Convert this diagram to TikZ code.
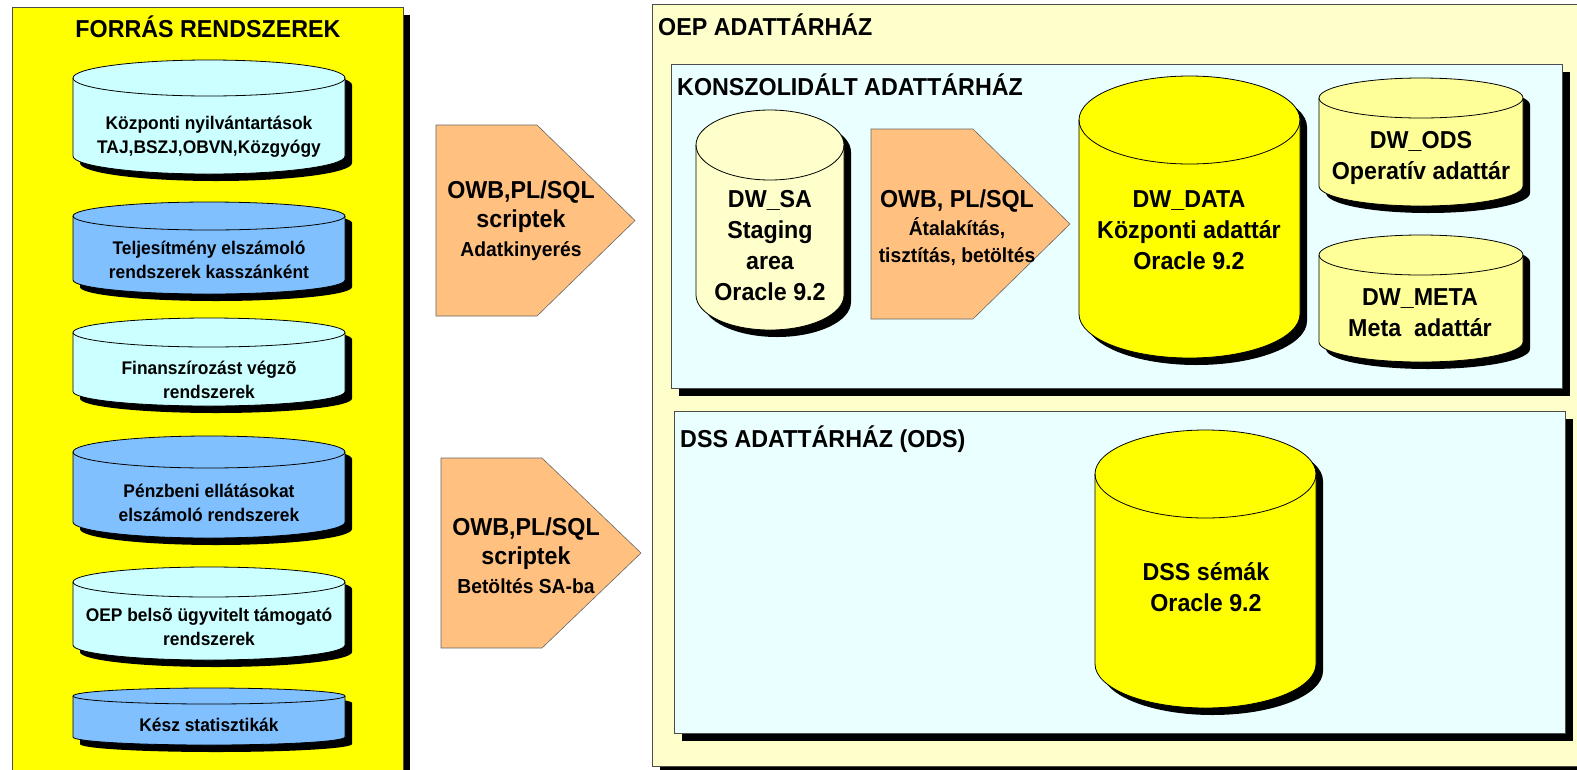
\documentclass[tikz,border=0pt]{standalone}
\usepackage{fontspec}
\setmainfont{Liberation Sans}[FakeStretch=0.95]
\definecolor{srcyellow}{HTML}{FFFF00}
\definecolor{oepfill}{HTML}{FFFFCC}
\definecolor{dwfill}{HTML}{EAFFFF}
\definecolor{cylcyan}{HTML}{CCFFFF}
\definecolor{cylblue}{HTML}{80C0FF}
\definecolor{etlorange}{HTML}{FFC080}
\definecolor{odsyellow}{HTML}{FFFF99}
\newcommand{\dbcyl}[6]{%
  \pgfmathsetmacro\cylrx{(#2-#1)/2}%
  \fill[black] (#1+7,#3+#5+7) -- (#1+7,#4-#5+7)
    arc[start angle=180, end angle=360, x radius=\cylrx pt, y radius=#5pt]
    -- (#2+7,#3+#5+7)
    arc[start angle=0, end angle=180, x radius=\cylrx pt, y radius=#5pt] -- cycle;
  \filldraw[fill=#6, draw=black, line width=0.8pt] (#1,#3+#5) -- (#1,#4-#5)
    arc[start angle=180, end angle=360, x radius=\cylrx pt, y radius=#5pt]
    -- (#2,#3+#5)
    arc[start angle=0, end angle=180, x radius=\cylrx pt, y radius=#5pt] -- cycle;
  \draw[line width=0.8pt] (#1,#3+#5)
    arc[start angle=180, end angle=360, x radius=\cylrx pt, y radius=#5pt];
}
\newcommand{\subline}[1]{{\fontsize{20.3}{29}\selectfont #1}}
\begin{document}
\begin{tikzpicture}[x=1pt, y=-1pt,
  frame/.style={draw=black!70, line width=0.8pt},
  etl/.style={fill=etlorange, draw=black!60, line width=0.6pt},
  title/.style={font=\bfseries\fontsize{24.5}{29}\selectfont, inner sep=0pt},
  srctext/.style={font=\bfseries\fontsize{18.3}{24}\selectfont, align=center, inner sep=0pt},
  dbtext/.style={font=\bfseries\fontsize{24.5}{31}\selectfont, align=center, inner sep=0pt},
  etltext/.style={font=\bfseries\fontsize{24.5}{29}\selectfont, align=center, inner sep=0pt}]
\useasboundingbox (0,0) rectangle (1577,769);
\clip (0,0) rectangle (1577,769);

% forras rendszerek
\fill[black] (19,15) rectangle (410,790);
\filldraw[frame, fill=srcyellow] (12,7) rectangle (403,790);
\node[title, anchor=base] (srctitle) at (208,37.5) {FORRÁS RENDSZEREK};
\dbcyl{73}{345}{60}{174}{18}{cylcyan}
\dbcyl{73}{345}{202}{294}{14}{cylblue}
\dbcyl{73}{345}{318}{406}{14.5}{cylcyan}
\dbcyl{73}{345}{436}{538}{16}{cylblue}
\dbcyl{73}{345}{567}{660}{15}{cylcyan}
\dbcyl{73}{345}{688}{745}{8}{cylblue}
\node[srctext] (kozp) at (209,137) {Központi nyilvántartások\\TAJ,BSZJ,OBVN,Közgyógy};
\node[srctext] (telj) at (209,260) {Teljesítmény elszámoló\\rendszerek kasszánként};
\node[srctext] (finansz) at (209,379.5) {Finanszírozást végzõ\\rendszerek};
\node[srctext] (penz) at (209,502.5) {Pénzbeni ellátásokat\\elszámoló rendszerek};
\node[srctext] (ugyvit) at (209,627) {OEP belsõ ügyvitelt támogató\\rendszerek};
\node[srctext] (stat) at (209,725) {Kész statisztikák};

% ETL nyilak
\filldraw[etl] (436,125) -- (537,125) -- (635,220.5) -- (537,316) -- (436,316) -- cycle;
\filldraw[etl] (441,458) -- (542,458) -- (641,553) -- (542,648) -- (441,648) -- cycle;
\node[etltext] (extract) at (521,221) {OWB,PL/SQL\\scriptek\\\subline{Adatkinyerés}};
\node[etltext] (load) at (526,556) {OWB,PL/SQL\\scriptek\\\subline{Betöltés SA-ba}};

% OEP adattarhaz
\fill[black] (660,12) rectangle (1585,776);
\filldraw[frame, fill=oepfill] (652,4) rectangle (1577,766);
\node[title, anchor=base west] (oeptitle) at (658,35) {OEP ADATTÁRHÁZ};

\fill[black] (679,72) rectangle (1570,396);
\filldraw[frame, fill=dwfill] (671,64) rectangle (1562,388);
\node[title, anchor=base west] (konsztitle) at (677,95) {KONSZOLIDÁLT ADATTÁRHÁZ};

\fill[black] (682,419) rectangle (1573,741);
\filldraw[frame, fill=dwfill] (674,411) rectangle (1565,733);
\node[title, anchor=base west] (dsstitle) at (680,447.5) {DSS ADATTÁRHÁZ (ODS)};

\dbcyl{696}{844}{110}{330}{35}{oepfill}
\filldraw[etl] (871,129) -- (973,129) -- (1070,224) -- (973,319) -- (871,319) -- cycle;
\dbcyl{1079}{1300}{76}{358}{44}{srcyellow}
\dbcyl{1319}{1523}{78}{206}{20}{odsyellow}
\dbcyl{1319}{1523}{235}{362}{20}{odsyellow}
\dbcyl{1095}{1316}{430}{708}{44}{srcyellow}

\node[dbtext] (dwsa) at (770,246) {DW\_SA\\Staging\\area\\Oracle 9.2};
\node[etltext, font=\bfseries\fontsize{24.5}{27.5}\selectfont] (transform) at (957,228)
  {OWB, PL/SQL\\\subline{Átalakítás,}\\\subline{tisztítás, betöltés}};
\node[dbtext] (dwdata) at (1189,230.5) {DW\_DATA\\Központi adattár\\Oracle 9.2};
\node[dbtext] (dwods) at (1421,157.5) {DW\_ODS\\Operatív adattár};
\node[dbtext] (dwmeta) at (1420,312.5) {DW\_META\\Meta\ \ adattár};
\node[dbtext] (dss) at (1206,587) {DSS sémák\\Oracle 9.2};
\end{tikzpicture}
\end{document}
